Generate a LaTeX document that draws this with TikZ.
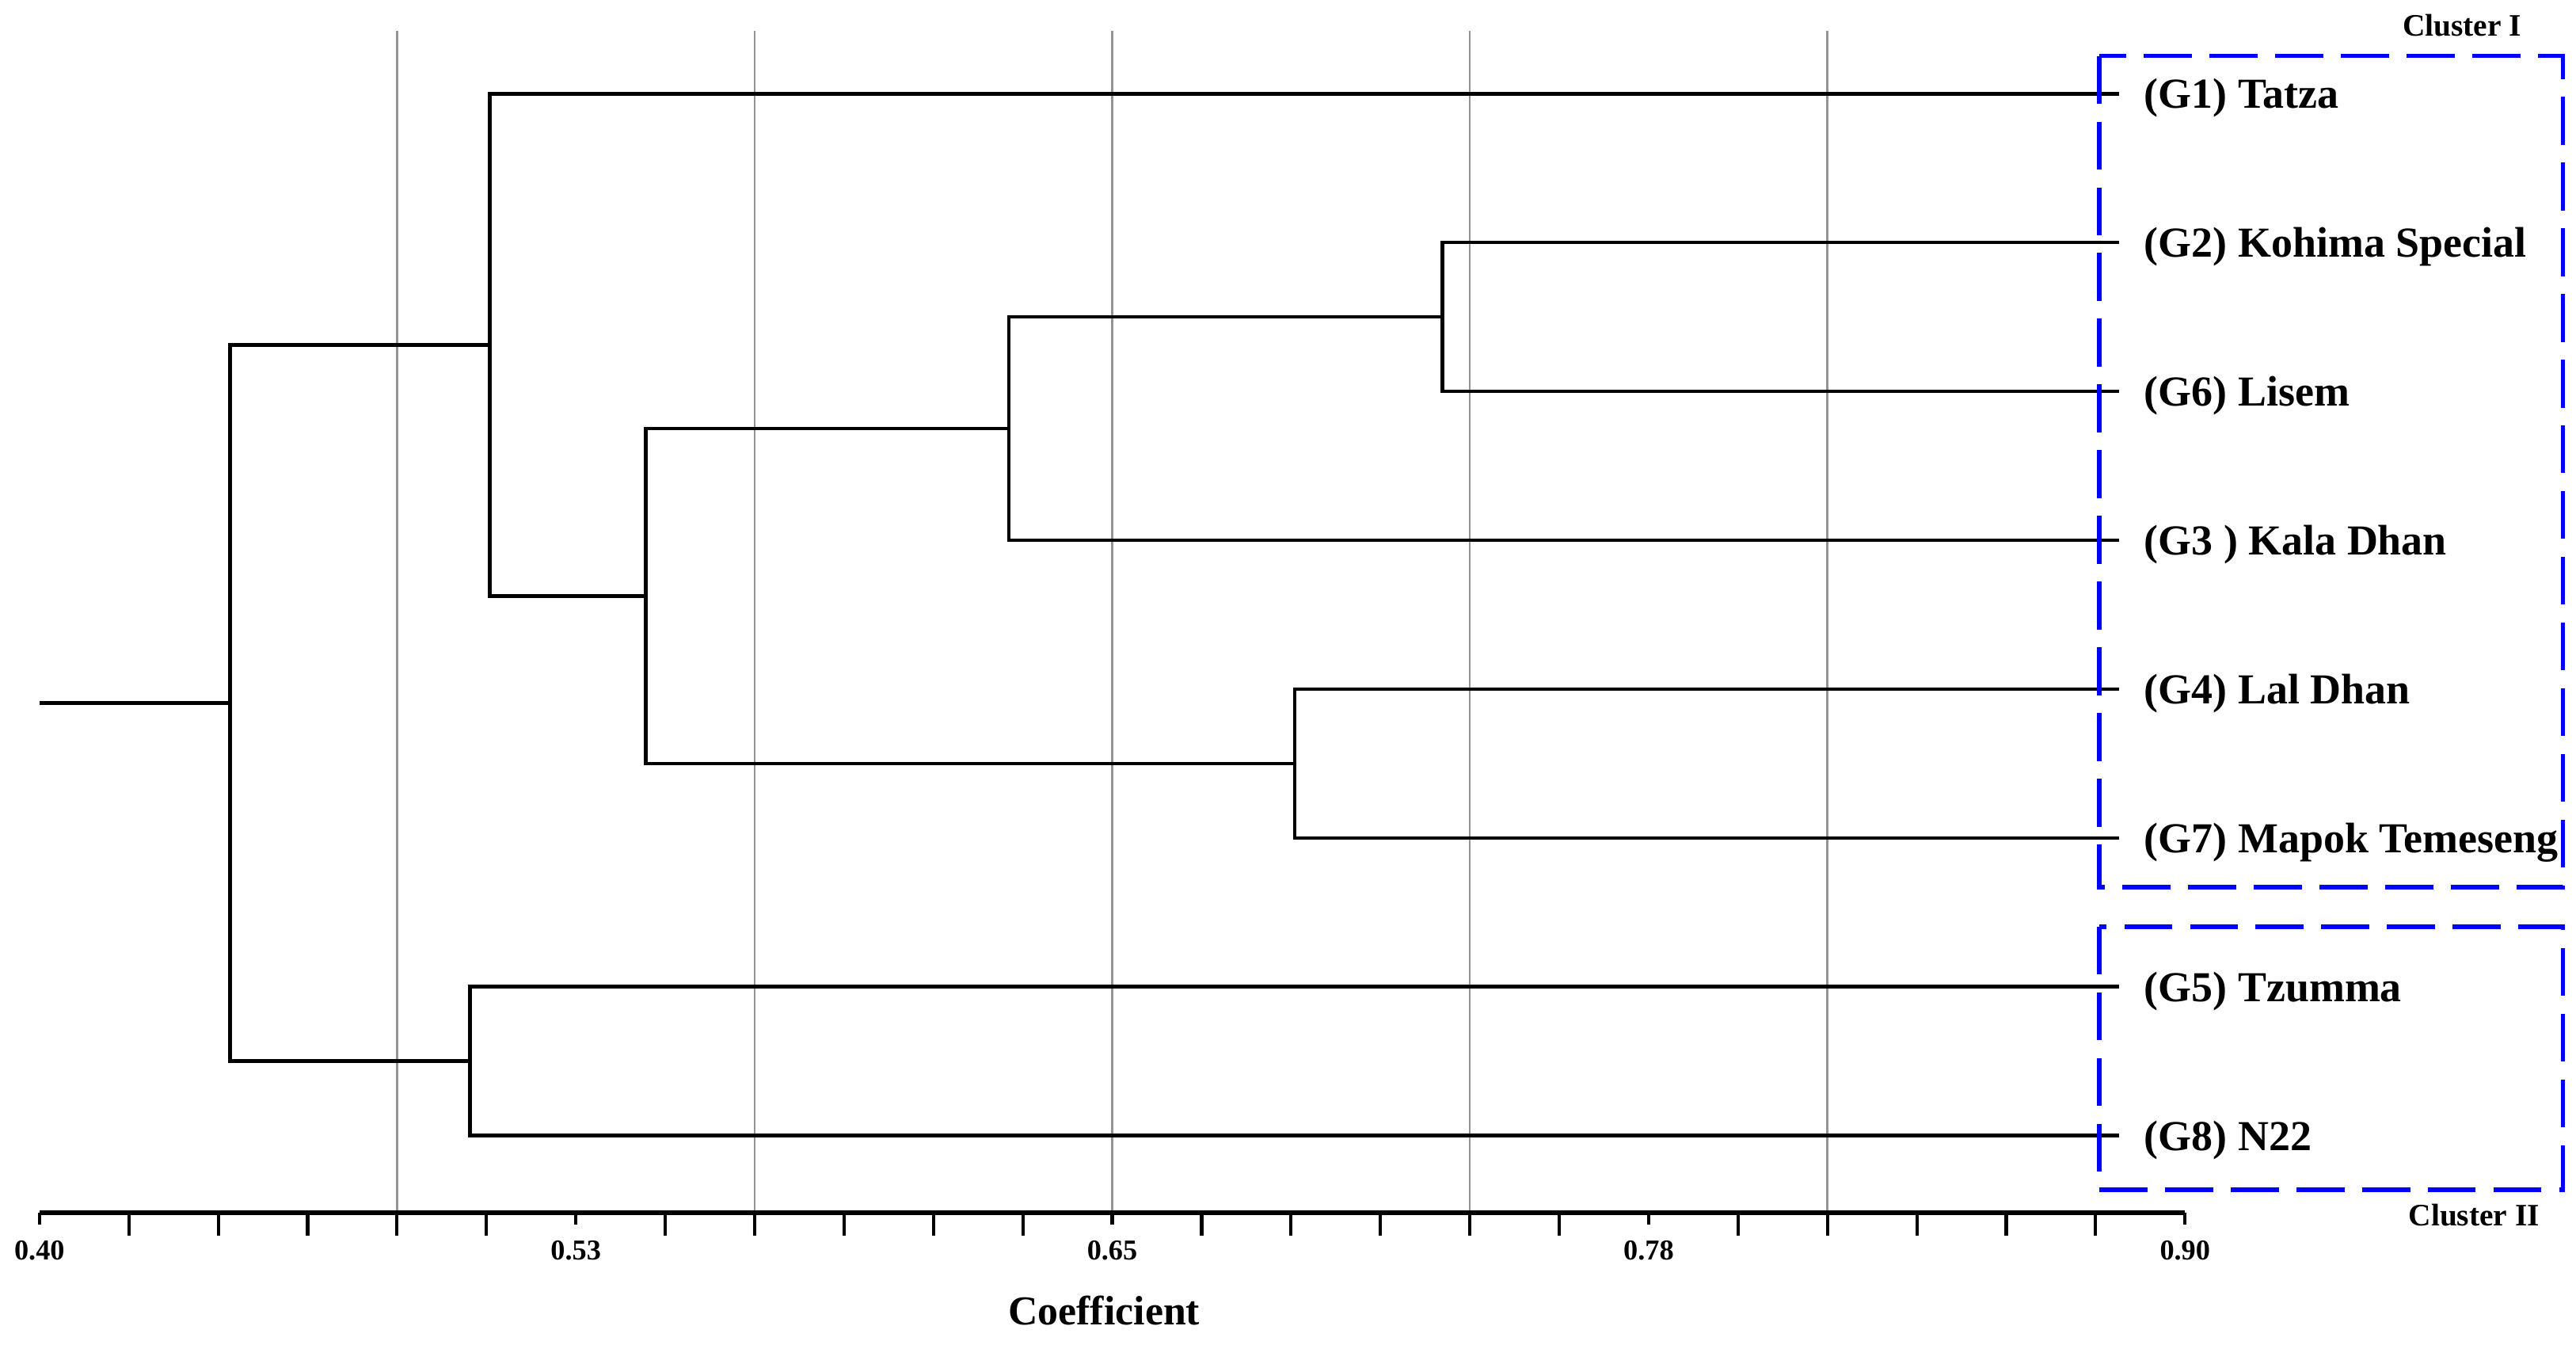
\documentclass[tikz,border=0pt]{standalone}
\usepackage{fontspec}
\setmainfont{Liberation Serif}
\begin{document}
\begin{tikzpicture}[x=1pt,y=-1pt,
  dend/.style={line width=2.2pt,black},
  gridln/.style={line width=1.3pt,gray!85},
  clbox/.style={line width=2.8pt,color={rgb,255:red,0;green,0;blue,255},dash pattern=on 29pt off 11pt},
  leaf/.style={anchor=base west,inner sep=0pt,font=\fontsize{26}{30}\selectfont\bfseries},
  ticklab/.style={anchor=base,inner sep=0pt,font=\fontsize{17.5}{20}\selectfont\bfseries},
  cltext/.style={anchor=base east,inner sep=0pt,font=\fontsize{19}{22}\selectfont\bfseries}]
\useasboundingbox (0,0) rectangle (1568,818);
\fill[white] (0,0) rectangle (1568,818);
% grid lines
\foreach \k in {4,8,12,16,20}{
  \draw[gridln] ({24+54.4167*\k},19) -- ({24+54.4167*\k},738);
}
% axis
\coordinate (ax0) at (24,738);
\coordinate (ax1) at (1330,738);
\draw[line width=2.6pt] (ax0) -- (ax1);
\foreach \k in {0,...,24}{
  \pgfmathtruncatemacro{\m}{mod(\k,6)}
  \ifnum\m=0
    \draw[line width=2pt] ({24+54.4167*\k},738) -- ({24+54.4167*\k},745);
  \else
    \draw[line width=2pt] ({24+54.4167*\k},738) -- ({24+54.4167*\k},752);
  \fi
}
\node[ticklab] (t0) at (24,766.5) {0.40};
\node[ticklab] (t1) at (350.5,766.5) {0.53};
\node[ticklab] (t2) at (677,766.5) {0.65};
\node[ticklab] (t3) at (1003.5,766.5) {0.78};
\node[ticklab] (t4) at (1330,766.5) {0.90};
\node[anchor=base,inner sep=0pt,font=\fontsize{25}{28}\selectfont\bfseries] (coef) at (672,806) {Coefficient};
% leaves
\coordinate (l1) at (1290,57);
\coordinate (l2) at (1290,147.6);
\coordinate (l6) at (1290,238.1);
\coordinate (l3) at (1290,328.7);
\coordinate (l4) at (1290,419.3);
\coordinate (l7) at (1290,509.9);
\coordinate (l5) at (1290,600.4);
\coordinate (l8) at (1290,691);
\node[leaf] (g1) at (1305,66) {(G1) Tatza};
\node[leaf] (g2) at (1305,156.6) {(G2) Kohima Special};
\node[leaf] (g6) at (1305,247.1) {(G6) Lisem};
\node[leaf] (g3) at (1305,337.7) {(G3 ) Kala Dhan};
\node[leaf] (g4) at (1305,428.3) {(G4) Lal Dhan};
\node[leaf] (g7) at (1305,518.9) {(G7) Mapok Temeseng};
\node[leaf] (g5) at (1305,609.4) {(G5) Tzumma};
\node[leaf] (g8) at (1305,700) {(G8) N22};
% internal joins
\coordinate (n26) at (878,192.85);
\coordinate (n263) at (614,260.8);
\coordinate (n47) at (788,464.6);
\coordinate (n2634) at (393,362.7);
\coordinate (nI) at (298,209.85);
\coordinate (n58) at (286,645.7);
\coordinate (root) at (140,427.8);
\coordinate (stub) at (24,427.8);
\draw[dend] (l2) -| (n26) |- (l6);
\draw[dend] (n26) -| (n263) |- (l3);
\draw[dend] (l4) -| (n47) |- (l7);
\draw[dend] (n263) -| (n2634) |- (n47);
\draw[dend] (l1) -| (nI) |- (n2634);
\draw[dend] (l5) -| (n58) |- (l8);
\draw[dend] (nI) -| (root) |- (n58);
\draw[dend] (root) -- (stub);
% cluster boxes
\draw[clbox] (1278,34) rectangle (1560,540);
\draw[clbox] (1278,564) rectangle (1560,724);
\node[cltext] (c1) at (1535,22) {Cluster I};
\node[cltext] (c2) at (1546,746) {Cluster II};
\end{tikzpicture}
\end{document}
